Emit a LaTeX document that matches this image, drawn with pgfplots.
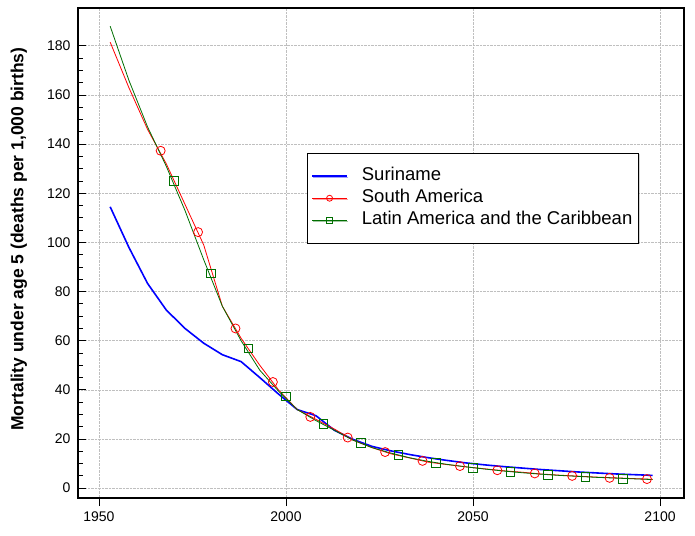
\documentclass[border=0pt]{standalone}
\usepackage{pgfplots}
\pgfplotsset{compat=1.18}
\usepackage{pgfplotstable}
\usetikzlibrary{shadows}
\usepackage{fontspec}
\setmainfont{Liberation Sans}

\definecolor{lacgreen}{RGB}{0,110,0}

% 5-year periods, values
\pgfplotstableread{
year sur sam lac
1953 114.5 181.5 188.0
1958 98.0  163.0 166.0
1963 83.3  146.0 147.0
1968 72.5  132.0 131.0
1973 65.0  115.5 113.0
1978 59.0  99.0  93.0
1983 54.3  74.0  74.0
1988 51.5  61.0  60.0
1993 45.0  50.0  48.0
1998 38.3  40.0  39.5
2003 32.0  32.0  32.0
2008 29.5  28.0  27.5
2013 23.5  24.0  23.5
2018 19.8  19.5  19.5
2023 17.0  16.5  16.5
2028 15.2  14.0  14.3
2033 13.7  12.3  12.4
2038 12.4  10.6  10.9
2043 11.3  9.6   9.7
2048 10.3  8.7   8.7
2053 9.5   7.9   7.8
2058 8.8   7.1   7.0
2063 8.2   6.5   6.3
2068 7.6   5.8   5.7
2073 7.1   5.3   5.2
2078 6.6   4.9   4.8
2083 6.2   4.5   4.4
2088 5.8   4.2   4.1
2093 5.5   3.9   3.8
2098 5.2   3.6   3.5
}\mortality

\begin{document}
\begin{tikzpicture}
\begin{axis}[
    scale only axis,
    width=606pt, height=490pt,
    xmin=1944.4, xmax=2106.4,
    ymin=-4, ymax=195.4,
    xtick={1950,2000,2050,2100},
    ytick={0,20,...,180},
    minor y tick num=3,
    xtick align=outside,
    ytick align=inside,
    major tick length=8pt,
    minor tick length=5pt,
    xtick pos=bottom,
    ytick pos=left,
    tick style={black, line width=0.8pt},
    x tick label style={/pgf/number format/1000 sep={}, yshift=-2pt},
    y tick label style={xshift=-4pt},
    tick label style={font=\fontsize{14}{16}\selectfont},
    /pgf/number format/assume math mode=true,
    axis line style={line width=1.4pt},
    xmajorgrids, ymajorgrids,
    grid style={densely dotted, black!25, line width=0.7pt},
    ylabel={\bfseries Mortality under age 5 (deaths per 1,000 births)},
    every axis y label/.style={
        at={([xshift=-59pt,yshift=14pt]axis description cs:0,0.5)},
        rotate=90, anchor=center,
        font=\fontsize{17.5}{20}\selectfont},
    legend style={
        at={(0.378,0.704)}, anchor=north west,
        draw=black, fill=white,
        drop shadow={shadow xshift=1.2pt, shadow yshift=-1.2pt, opacity=0.35},
        font=\fontsize{18.5}{22}\selectfont,
        inner xsep=4pt, inner ysep=12.5pt,
        row sep=1pt,
        nodes={inner sep=2pt, text height=13pt, text depth=4pt},
        /tikz/every odd column/.append style={column sep=12pt},
        cells={anchor=west},
    },
    legend image code/.code={
        \draw[mark repeat=2, mark phase=2]
            plot coordinates {(0pt,0pt) (17.5pt,0pt) (35pt,0pt)};
    },
]

\addplot[blue, line width=1.6pt, forget plot] table[x=year, y=sur] {\mortality};
\addlegendimage{blue, line width=1.6pt}
\addlegendentry{Suriname}

\addplot[red, line width=0.8pt, forget plot] table[x=year, y=sam] {\mortality};
\addplot[red, only marks, mark=o, mark size=4.5pt, mark options={line width=0.8pt}, forget plot]
    coordinates {
    (1966.5,137.3) (1976.5,104.2) (1986.5,65.0) (1996.5,43.2) (2006.5,29.0)
    (2016.5,20.6) (2026.5,14.7) (2036.5,11.1) (2046.5,9.0) (2056.5,7.3)
    (2066.5,6.0) (2076.5,5.0) (2086.5,4.2) (2096.5,3.7)
    };
\addlegendimage{red, line width=0.8pt, mark=o, mark size=3pt}
\addlegendentry{South America}

\addplot[lacgreen, line width=0.8pt, forget plot] table[x=year, y=lac] {\mortality};
\addplot[lacgreen, only marks, mark=square, mark size=4.3pt, mark options={line width=0.8pt}, forget plot]
    coordinates {
    (1970,125.1) (1980,87.4) (1990,56.9) (2000,37.3) (2010,26.1)
    (2020,18.5) (2030,13.6) (2040,10.3) (2050,8.3) (2060,6.7)
    (2070,5.4) (2080,4.5) (2090,3.8)
    };
\addlegendimage{lacgreen, line width=0.8pt, mark=square, mark size=3pt}
\addlegendentry{Latin America and the Caribbean}

\end{axis}
\pgfresetboundingbox
\path ([xshift=-78pt,yshift=-37pt]current axis.south west)
    rectangle ([xshift=11pt,yshift=8pt]current axis.north east);
\end{tikzpicture}
\end{document}
